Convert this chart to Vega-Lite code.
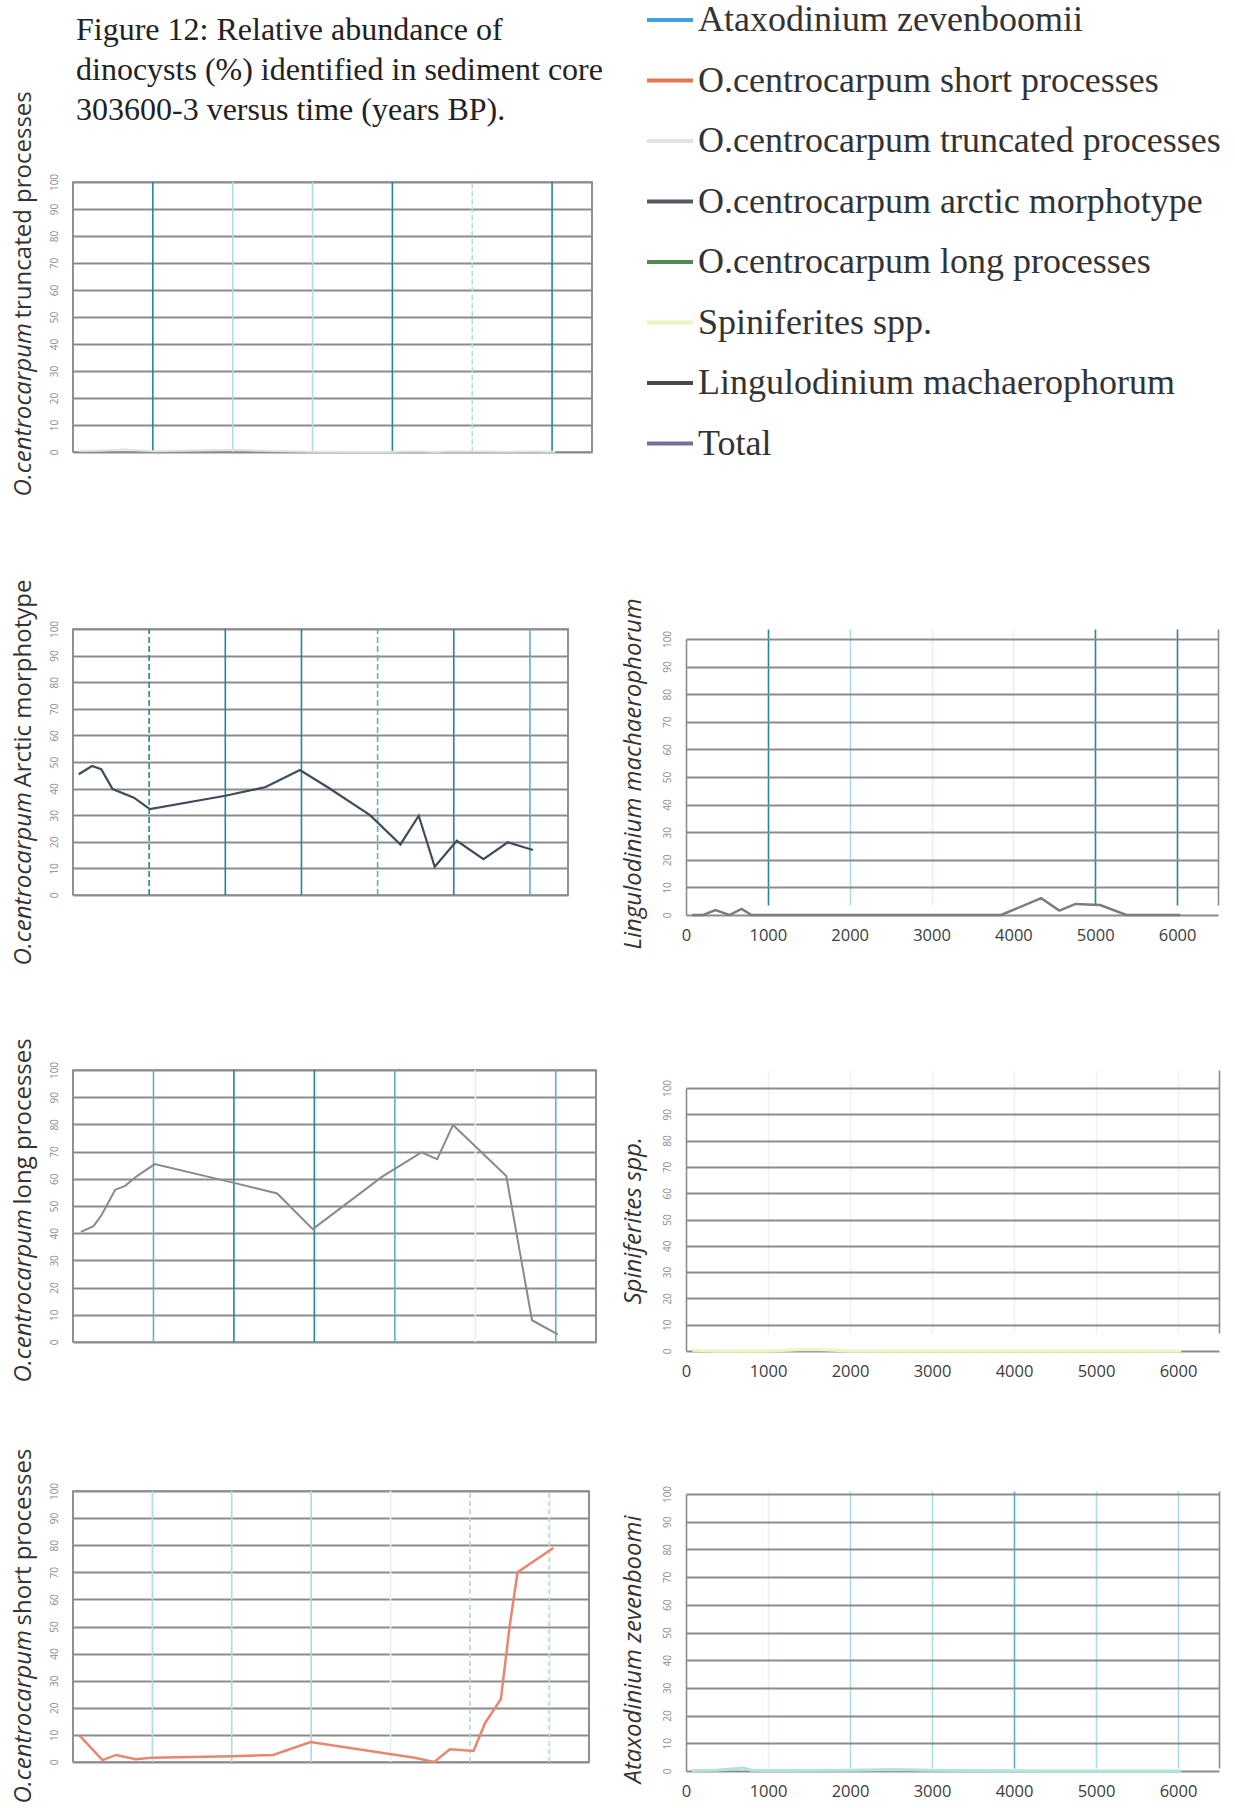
{
  "$schema": "https://vega.github.io/schema/vega-lite/v6.json",
  "padding": 0,
  "background": "white",
  "config": {
    "view": {"stroke": "#8c8c8c", "strokeWidth": 1.6},
    "font": "Open Sans"
  },
  "datasets": {
    "gridlines": [
      {"age": 0}, {"age": 1000}, {"age": 2000}, {"age": 3000}, {"age": 4000}, {"age": 5000}, {"age": 6000}, {"age": 6500}
    ],
    "dinocysts": [
      {"series": "O.centrocarpum truncated processes", "age": 75, "pct": 0.4},
      {"series": "O.centrocarpum truncated processes", "age": 370, "pct": 0.6},
      {"series": "O.centrocarpum truncated processes", "age": 660, "pct": 0.9},
      {"series": "O.centrocarpum truncated processes", "age": 1000, "pct": 0.3},
      {"series": "O.centrocarpum truncated processes", "age": 2000, "pct": 0.8},
      {"series": "O.centrocarpum truncated processes", "age": 2530, "pct": 0.4},
      {"series": "O.centrocarpum truncated processes", "age": 2990, "pct": 0.1},
      {"series": "O.centrocarpum truncated processes", "age": 3850, "pct": 0},
      {"series": "O.centrocarpum truncated processes", "age": 4320, "pct": 0.3},
      {"series": "O.centrocarpum truncated processes", "age": 4540, "pct": 0},
      {"series": "O.centrocarpum truncated processes", "age": 4750, "pct": 0.3},
      {"series": "O.centrocarpum truncated processes", "age": 5050, "pct": 0.2},
      {"series": "O.centrocarpum truncated processes", "age": 5390, "pct": 0.1},
      {"series": "O.centrocarpum truncated processes", "age": 5710, "pct": 0.2},
      {"series": "O.centrocarpum truncated processes", "age": 6040, "pct": 0.1},

      {"series": "O.centrocarpum arctic morphotype", "age": 75, "pct": 45.4},
      {"series": "O.centrocarpum arctic morphotype", "age": 250, "pct": 48.5},
      {"series": "O.centrocarpum arctic morphotype", "age": 370, "pct": 47.3},
      {"series": "O.centrocarpum arctic morphotype", "age": 520, "pct": 39.8},
      {"series": "O.centrocarpum arctic morphotype", "age": 800, "pct": 36.6},
      {"series": "O.centrocarpum arctic morphotype", "age": 1010, "pct": 32.3},
      {"series": "O.centrocarpum arctic morphotype", "age": 2000, "pct": 37.3},
      {"series": "O.centrocarpum arctic morphotype", "age": 2530, "pct": 40.6},
      {"series": "O.centrocarpum arctic morphotype", "age": 2980, "pct": 47},
      {"series": "O.centrocarpum arctic morphotype", "age": 3350, "pct": 40.4},
      {"series": "O.centrocarpum arctic morphotype", "age": 3900, "pct": 30},
      {"series": "O.centrocarpum arctic morphotype", "age": 4300, "pct": 19},
      {"series": "O.centrocarpum arctic morphotype", "age": 4540, "pct": 29.8},
      {"series": "O.centrocarpum arctic morphotype", "age": 4750, "pct": 10.6},
      {"series": "O.centrocarpum arctic morphotype", "age": 5040, "pct": 20.4},
      {"series": "O.centrocarpum arctic morphotype", "age": 5390, "pct": 13.5},
      {"series": "O.centrocarpum arctic morphotype", "age": 5710, "pct": 19.8},
      {"series": "O.centrocarpum arctic morphotype", "age": 6040, "pct": 16.9},

      {"series": "Lingulodinium machaerophorum", "age": 75, "pct": 0},
      {"series": "Lingulodinium machaerophorum", "age": 210, "pct": 0},
      {"series": "Lingulodinium machaerophorum", "age": 360, "pct": 1.8},
      {"series": "Lingulodinium machaerophorum", "age": 530, "pct": 0},
      {"series": "Lingulodinium machaerophorum", "age": 680, "pct": 2.2},
      {"series": "Lingulodinium machaerophorum", "age": 800, "pct": 0},
      {"series": "Lingulodinium machaerophorum", "age": 1000, "pct": 0},
      {"series": "Lingulodinium machaerophorum", "age": 2000, "pct": 0},
      {"series": "Lingulodinium machaerophorum", "age": 2530, "pct": 0},
      {"series": "Lingulodinium machaerophorum", "age": 2990, "pct": 0},
      {"series": "Lingulodinium machaerophorum", "age": 3850, "pct": 0},
      {"series": "Lingulodinium machaerophorum", "age": 4340, "pct": 6.1},
      {"series": "Lingulodinium machaerophorum", "age": 4560, "pct": 1.6},
      {"series": "Lingulodinium machaerophorum", "age": 4760, "pct": 4},
      {"series": "Lingulodinium machaerophorum", "age": 5060, "pct": 3.6},
      {"series": "Lingulodinium machaerophorum", "age": 5380, "pct": 0},
      {"series": "Lingulodinium machaerophorum", "age": 5710, "pct": 0},
      {"series": "Lingulodinium machaerophorum", "age": 6040, "pct": 0},

      {"series": "O.centrocarpum long processes", "age": 98, "pct": 40.5},
      {"series": "O.centrocarpum long processes", "age": 255, "pct": 42.6},
      {"series": "O.centrocarpum long processes", "age": 353, "pct": 46.6},
      {"series": "O.centrocarpum long processes", "age": 525, "pct": 56},
      {"series": "O.centrocarpum long processes", "age": 648, "pct": 57.4},
      {"series": "O.centrocarpum long processes", "age": 795, "pct": 61},
      {"series": "O.centrocarpum long processes", "age": 1016, "pct": 65.4},
      {"series": "O.centrocarpum long processes", "age": 2000, "pct": 58.5},
      {"series": "O.centrocarpum long processes", "age": 2538, "pct": 54.6},
      {"series": "O.centrocarpum long processes", "age": 2980, "pct": 41.5},
      {"series": "O.centrocarpum long processes", "age": 3839, "pct": 60.7},
      {"series": "O.centrocarpum long processes", "age": 4330, "pct": 69.7},
      {"series": "O.centrocarpum long processes", "age": 4526, "pct": 67.2},
      {"series": "O.centrocarpum long processes", "age": 4723, "pct": 79.8},
      {"series": "O.centrocarpum long processes", "age": 5385, "pct": 61},
      {"series": "O.centrocarpum long processes", "age": 5705, "pct": 8},
      {"series": "O.centrocarpum long processes", "age": 6024, "pct": 2.8},

      {"series": "Spiniferites spp.", "age": 75, "pct": 0.3},
      {"series": "Spiniferites spp.", "age": 370, "pct": 0},
      {"series": "Spiniferites spp.", "age": 1000, "pct": 0},
      {"series": "Spiniferites spp.", "age": 1400, "pct": 0.5},
      {"series": "Spiniferites spp.", "age": 1650, "pct": 0.5},
      {"series": "Spiniferites spp.", "age": 2000, "pct": 0},
      {"series": "Spiniferites spp.", "age": 2990, "pct": 0},
      {"series": "Spiniferites spp.", "age": 4320, "pct": 0},
      {"series": "Spiniferites spp.", "age": 5050, "pct": 0},
      {"series": "Spiniferites spp.", "age": 6040, "pct": 0},

      {"series": "O.centrocarpum short processes", "age": 74, "pct": 10},
      {"series": "O.centrocarpum short processes", "age": 371, "pct": 0.7},
      {"series": "O.centrocarpum short processes", "age": 544, "pct": 2.6},
      {"series": "O.centrocarpum short processes", "age": 791, "pct": 1},
      {"series": "O.centrocarpum short processes", "age": 989, "pct": 1.6},
      {"series": "O.centrocarpum short processes", "age": 2003, "pct": 2.1},
      {"series": "O.centrocarpum short processes", "age": 2522, "pct": 2.6},
      {"series": "O.centrocarpum short processes", "age": 2992, "pct": 7.4},
      {"series": "O.centrocarpum short processes", "age": 4303, "pct": 1.6},
      {"series": "O.centrocarpum short processes", "age": 4550, "pct": 0},
      {"series": "O.centrocarpum short processes", "age": 4748, "pct": 4.7},
      {"series": "O.centrocarpum short processes", "age": 5045, "pct": 4.1},
      {"series": "O.centrocarpum short processes", "age": 5193, "pct": 14.5},
      {"series": "O.centrocarpum short processes", "age": 5390, "pct": 23.2},
      {"series": "O.centrocarpum short processes", "age": 5500, "pct": 50},
      {"series": "O.centrocarpum short processes", "age": 5600, "pct": 70},
      {"series": "O.centrocarpum short processes", "age": 6050, "pct": 79},

      {"series": "Ataxodinium zevenboomii", "age": 75, "pct": 0.2},
      {"series": "Ataxodinium zevenboomii", "age": 370, "pct": 0.3},
      {"series": "Ataxodinium zevenboomii", "age": 620, "pct": 0.9},
      {"series": "Ataxodinium zevenboomii", "age": 700, "pct": 1.1},
      {"series": "Ataxodinium zevenboomii", "age": 800, "pct": 0.3},
      {"series": "Ataxodinium zevenboomii", "age": 1000, "pct": 0.2},
      {"series": "Ataxodinium zevenboomii", "age": 2000, "pct": 0.3},
      {"series": "Ataxodinium zevenboomii", "age": 2530, "pct": 0.5},
      {"series": "Ataxodinium zevenboomii", "age": 2990, "pct": 0.3},
      {"series": "Ataxodinium zevenboomii", "age": 3850, "pct": 0.1},
      {"series": "Ataxodinium zevenboomii", "age": 4320, "pct": 0},
      {"series": "Ataxodinium zevenboomii", "age": 5050, "pct": 0},
      {"series": "Ataxodinium zevenboomii", "age": 5710, "pct": 0},
      {"series": "Ataxodinium zevenboomii", "age": 6040, "pct": 0}
    ]
  },
  "columns": 3,
  "spacing": 0,
  "bounds": "flush",
  "align": "each",
  "concat": [
    {"width": 72, "height": 10, "data": {"values": [{}]}, "mark": {"type": "rule", "opacity": 0}, "encoding": {}, "view": {"stroke": null, "fill": "white"}},
    {
      "width": 613, "height": 181,
      "data": {"values": [{}]}, "mark": {"type": "rule", "opacity": 0}, "encoding": {},
      "view": {"stroke": null},
      "title": {
        "text": ["Figure 12: Relative abundance of", "dinocysts (%) identified in sediment core", "303600-3 versus time (years BP)."],
        "anchor": "start", "frame": "group", "orient": "top", "baseline": "top",
        "offset": -126, "dx": 3, "lineHeight": 40,
        "font": "Liberation Serif", "fontSize": 32, "fontWeight": "normal", "color": "#222222"
      }
    },
    {"width": 1, "height": 1, "data": {"values": [{}]}, "mark": {"type": "rule", "opacity": 0}, "encoding": {}, "view": {"stroke": null}},

    {"width": 1, "height": 1, "data": {"values": [{}]}, "mark": {"type": "rule", "opacity": 0}, "encoding": {}, "view": {"stroke": null}},
    {
      "width": 519, "height": 270,
      "data": {"name": "dinocysts"},
      "transform": [{"filter": {"field": "series", "equal": "O.centrocarpum truncated processes"}}],
      "layer": [
        {
          "data": {"name": "gridlines"},
          "mark": {"type": "rule", "strokeWidth": 1.6},
          "encoding": {
            "x": {"field": "age", "type": "quantitative", "axis": null},
            "y": {"datum": 0, "type": "quantitative", "axis": null},
            "y2": {"datum": 100},
            "color": {"condition": [{"test": "datum.age === 0 || datum.age === 6500", "value": "#8c8c8c"}, {"test": "indexof([1000,4000,6000], datum.age) >= 0", "value": "#23879a"}], "value": "#a9dce3"},
            "strokeDash": {"condition": {"test": "datum.age === 5000", "value": [5, 3]}, "value": [1, 0]}
          }
        },
        {
          "mark": {"type": "line", "strokeWidth": 2},
          "encoding": {
            "x": {"field": "age", "type": "quantitative", "scale": {"domain": [0, 6500], "nice": false},
              "axis": {"values": [0, 1000, 2000, 3000, 4000, 5000, 6000], "format": "d", "title": null, "domain": false, "ticks": false, "tickSize": 0, "labelPadding": 12, "labelFont": "Open Sans", "labelFontSize": 16.5, "labelColor": "#3c3c3c", "labelFlush": false, "labelOverlap": false, "grid": false}},
            "y": {"field": "pct", "type": "quantitative", "scale": {"domain": [0, 100], "nice": false},
              "axis": {"orient": "left", "values": [0, 10, 20, 30, 40, 50, 60, 70, 80, 90, 100], "domain": false, "ticks": false, "tickSize": 0, "labelAngle": 270, "labelAlign": "center", "labelBaseline": "middle", "labelPadding": 19, "labelFont": "Open Sans", "labelFontSize": 10, "labelColor": "#8c8c8c", "labelFlush": false, "labelOverlap": false, "grid": true, "gridColor": "#8c8c8c", "gridWidth": 1.8,
                "title": "O.centrocarpum", "titleFont": "Open Sans", "titleFontSize": 24, "titleFontStyle": "italic", "titleFontWeight": "normal", "titleColor": "#333333", "titleAngle": 270, "titleAlign": "left", "titleBaseline": "middle", "titleX": -50, "titleY": 314}},
            "color": {"field": "series", "type": "nominal",
              "scale": {
                "domain": ["Ataxodinium zevenboomii", "O.centrocarpum short processes", "O.centrocarpum truncated processes", "O.centrocarpum arctic morphotype", "O.centrocarpum long processes", "Spiniferites spp.", "Lingulodinium machaerophorum", "Total"],
                "range": ["#3fa0e0", "#e07850", "#e2e2e2", "#555a60", "#4e8a52", "#eef5bc", "#484848", "#7a6e98"]
              },
              "legend": {"orient": "none", "legendX": 644, "legendY": 1, "title": null, "padding": 0, "symbolType": "stroke", "symbolSize": 2116, "symbolStrokeWidth": 4, "clipHeight": 36, "rowPadding": 24.5, "labelOffset": 3, "labelFont": "Liberation Serif", "labelFontSize": 36, "labelColor": "#333333", "labelLimit": 0, "labelBaseline": "middle"}}
          }
        },
        {
          "mark": {"type": "line", "opacity": 0},
          "encoding": {
            "x": {"field": "age", "type": "quantitative", "axis": null},
            "y": {"field": "pct", "type": "quantitative",
              "axis": {"orient": "left", "labels": false, "ticks": false, "domain": false, "grid": false, "title": "truncated processes", "titleFont": "Open Sans", "titleFontSize": 24, "titleFontStyle": "normal", "titleFontWeight": "normal", "titleColor": "#333333", "titleAngle": 270, "titleAlign": "left", "titleBaseline": "middle", "titleX": -50, "titleY": 136}}
          }
        }
      ],
      "resolve": {"axis": {"y": "independent"}}
    },
    {"width": 1, "height": 1, "data": {"values": [{}]}, "mark": {"type": "rule", "opacity": 0}, "encoding": {}, "view": {"stroke": null}},

    {"width": 1, "height": 1, "data": {"values": [{}]}, "mark": {"type": "rule", "opacity": 0}, "encoding": {}, "view": {"stroke": null}},
    {"width": 10, "height": 177, "data": {"values": [{}]}, "mark": {"type": "rule", "opacity": 0}, "encoding": {}, "view": {"stroke": null}},
    {"width": 1, "height": 1, "data": {"values": [{}]}, "mark": {"type": "rule", "opacity": 0}, "encoding": {}, "view": {"stroke": null}},

    {"width": 1, "height": 1, "data": {"values": [{}]}, "mark": {"type": "rule", "opacity": 0}, "encoding": {}, "view": {"stroke": null}},
    {
      "width": 495, "height": 266,
      "data": {"name": "dinocysts"},
      "transform": [{"filter": {"field": "series", "equal": "O.centrocarpum arctic morphotype"}}],
      "layer": [
        {
          "data": {"name": "gridlines"},
          "mark": {"type": "rule", "strokeWidth": 1.6},
          "encoding": {
            "x": {"field": "age", "type": "quantitative", "axis": null},
            "y": {"datum": 0, "type": "quantitative", "axis": null},
            "y2": {"datum": 100},
            "color": {"condition": [{"test": "datum.age === 0 || datum.age === 6500", "value": "#8c8c8c"}, {"test": "indexof([1000,2000,3000,5000], datum.age) >= 0", "value": "#23879a"}], "value": "#5cb3c2"},
            "strokeDash": {"condition": {"test": "indexof([1000,4000], datum.age) >= 0", "value": [6, 3]}, "value": [1, 0]}
          }
        },
        {
          "mark": {"type": "line", "color": "#3d4c5c", "strokeWidth": 2.2},
          "encoding": {
            "x": {"field": "age", "type": "quantitative", "scale": {"domain": [0, 6500], "nice": false},
              "axis": {"values": [0, 1000, 2000, 3000, 4000, 5000, 6000], "format": "d", "title": null, "domain": false, "ticks": false, "tickSize": 0, "labelPadding": 12, "labelFont": "Open Sans", "labelFontSize": 16.5, "labelColor": "#3c3c3c", "labelFlush": false, "labelOverlap": false, "grid": false}},
            "y": {"field": "pct", "type": "quantitative", "scale": {"domain": [0, 100], "nice": false},
              "axis": {"orient": "left", "values": [0, 10, 20, 30, 40, 50, 60, 70, 80, 90, 100], "domain": false, "ticks": false, "tickSize": 0, "labelAngle": 270, "labelAlign": "center", "labelBaseline": "middle", "labelPadding": 19, "labelFont": "Open Sans", "labelFontSize": 10, "labelColor": "#8c8c8c", "labelFlush": false, "labelOverlap": false, "grid": true, "gridColor": "#8c8c8c", "gridWidth": 1.8,
                "title": "O.centrocarpum", "titleFont": "Open Sans", "titleFontSize": 24, "titleFontStyle": "italic", "titleFontWeight": "normal", "titleColor": "#333333", "titleAngle": 270, "titleAlign": "left", "titleBaseline": "middle", "titleX": -50, "titleY": 336}}
          }
        },
        {
          "mark": {"type": "line", "opacity": 0},
          "encoding": {
            "x": {"field": "age", "type": "quantitative", "axis": null},
            "y": {"field": "pct", "type": "quantitative",
              "axis": {"orient": "left", "labels": false, "ticks": false, "domain": false, "grid": false, "title": "Arctic morphotype", "titleFont": "Open Sans", "titleFontSize": 24, "titleFontStyle": "normal", "titleFontWeight": "normal", "titleColor": "#333333", "titleAngle": 270, "titleAlign": "left", "titleBaseline": "middle", "titleX": -50, "titleY": 158}}
          }
        }
      ],
      "resolve": {"axis": {"y": "independent"}}
    },
    {
      "width": 532, "height": 286,
      "data": {"name": "dinocysts"},
      "transform": [{"filter": {"field": "series", "equal": "Lingulodinium machaerophorum"}}],
      "view": {"stroke": null},
      "mark": {"type": "line", "color": "#7c7c7c", "strokeWidth": 2.5},
      "encoding": {
        "x": {"field": "age", "type": "quantitative", "scale": {"domain": [0, 6500], "nice": false},
          "axis": {"values": [0, 1000, 2000, 3000, 4000, 5000, 6000, 6500], "format": "d", "labelExpr": "datum.value > 6000 ? '' : datum.label", "title": null, "domain": false, "ticks": false, "tickSize": 0, "labelPadding": 12, "labelFont": "Open Sans", "labelFontSize": 16.5, "labelColor": "#3c3c3c", "labelFlush": false, "labelOverlap": false, "grid": true, "gridWidth": 1.6,
            "gridColor": {"condition": [{"test": "datum.value === 0", "value": "transparent"}, {"test": "datum.value === 6500", "value": "#8c8c8c"}, {"test": "indexof([1000,5000,6000], datum.value) >= 0", "value": "#23879a"}, {"test": "datum.value === 2000", "value": "#a9dce3"}], "value": "#e4f1f2"}}},
        "y": {"field": "pct", "type": "quantitative", "scale": {"domain": [0, 100], "nice": false, "range": [286, 10]},
          "axis": {"orient": "left", "values": [0, 10, 20, 30, 40, 50, 60, 70, 80, 90, 100], "domain": true, "domainColor": "#8c8c8c", "domainWidth": 1.6, "ticks": false, "tickSize": 0, "labelAngle": 270, "labelAlign": "center", "labelBaseline": "middle", "labelPadding": 19, "labelFont": "Open Sans", "labelFontSize": 10, "labelColor": "#8c8c8c", "labelFlush": false, "labelOverlap": false, "grid": true, "gridColor": "#8c8c8c", "gridWidth": 1.8,
            "title": "Lingulodinium machaerophorum", "titleFont": "Open Sans", "titleFontSize": 24, "titleFontStyle": "italic", "titleFontWeight": "normal", "titleColor": "#333333", "titleAngle": 270, "titleAlign": "left", "titleBaseline": "middle", "titleX": -53, "titleY": 320}}
      }
    },

    {"width": 1, "height": 1, "data": {"values": [{}]}, "mark": {"type": "rule", "opacity": 0}, "encoding": {}, "view": {"stroke": null}},
    {"width": 10, "height": 155, "data": {"values": [{}]}, "mark": {"type": "rule", "opacity": 0}, "encoding": {}, "view": {"stroke": null}},
    {"width": 1, "height": 1, "data": {"values": [{}]}, "mark": {"type": "rule", "opacity": 0}, "encoding": {}, "view": {"stroke": null}},

    {"width": 1, "height": 1, "data": {"values": [{}]}, "mark": {"type": "rule", "opacity": 0}, "encoding": {}, "view": {"stroke": null}},
    {
      "width": 523, "height": 272,
      "data": {"name": "dinocysts"},
      "transform": [{"filter": {"field": "series", "equal": "O.centrocarpum long processes"}}],
      "layer": [
        {
          "data": {"name": "gridlines"},
          "mark": {"type": "rule", "strokeWidth": 1.6},
          "encoding": {
            "x": {"field": "age", "type": "quantitative", "axis": null},
            "y": {"datum": 0, "type": "quantitative", "axis": null},
            "y2": {"datum": 100},
            "color": {"condition": [{"test": "datum.age === 0 || datum.age === 6500", "value": "#8c8c8c"}, {"test": "indexof([2000,3000], datum.age) >= 0", "value": "#23879a"}, {"test": "datum.age === 5000", "value": "#e4f1f2"}], "value": "#5cb3c2"}
          }
        },
        {
          "mark": {"type": "line", "color": "#8a8a8a", "strokeWidth": 2},
          "encoding": {
            "x": {"field": "age", "type": "quantitative", "scale": {"domain": [0, 6500], "nice": false},
              "axis": {"values": [0, 1000, 2000, 3000, 4000, 5000, 6000], "format": "d", "title": null, "domain": false, "ticks": false, "tickSize": 0, "labelPadding": 12, "labelFont": "Open Sans", "labelFontSize": 16.5, "labelColor": "#3c3c3c", "labelFlush": false, "labelOverlap": false, "grid": false}},
            "y": {"field": "pct", "type": "quantitative", "scale": {"domain": [0, 100], "nice": false},
              "axis": {"orient": "left", "values": [0, 10, 20, 30, 40, 50, 60, 70, 80, 90, 100], "domain": false, "ticks": false, "tickSize": 0, "labelAngle": 270, "labelAlign": "center", "labelBaseline": "middle", "labelPadding": 19, "labelFont": "Open Sans", "labelFontSize": 10, "labelColor": "#8c8c8c", "labelFlush": false, "labelOverlap": false, "grid": true, "gridColor": "#8c8c8c", "gridWidth": 1.8,
                "title": "O.centrocarpum", "titleFont": "Open Sans", "titleFontSize": 24, "titleFontStyle": "italic", "titleFontWeight": "normal", "titleColor": "#333333", "titleAngle": 270, "titleAlign": "left", "titleBaseline": "middle", "titleX": -50, "titleY": 312}}
          }
        },
        {
          "mark": {"type": "line", "opacity": 0},
          "encoding": {
            "x": {"field": "age", "type": "quantitative", "axis": null},
            "y": {"field": "pct", "type": "quantitative",
              "axis": {"orient": "left", "labels": false, "ticks": false, "domain": false, "grid": false, "title": "long processes", "titleFont": "Open Sans", "titleFontSize": 24, "titleFontStyle": "normal", "titleFontWeight": "normal", "titleColor": "#333333", "titleAngle": 270, "titleAlign": "left", "titleBaseline": "middle", "titleX": -50, "titleY": 134}}
          }
        }
      ],
      "resolve": {"axis": {"y": "independent"}}
    },
    {
      "width": 533, "height": 281,
      "data": {"name": "dinocysts"},
      "transform": [{"filter": {"field": "series", "equal": "Spiniferites spp."}}],
      "view": {"stroke": null},
      "mark": {"type": "line", "color": "#eef4c0", "strokeWidth": 3},
      "encoding": {
        "x": {"field": "age", "type": "quantitative", "scale": {"domain": [0, 6500], "nice": false},
          "axis": {"values": [0, 1000, 2000, 3000, 4000, 5000, 6000, 6500], "format": "d", "labelExpr": "datum.value > 6000 ? '' : datum.label", "title": null, "domain": false, "ticks": false, "tickSize": 0, "labelPadding": 12, "labelFont": "Open Sans", "labelFontSize": 16.5, "labelColor": "#3c3c3c", "labelFlush": false, "labelOverlap": false, "grid": true, "gridWidth": 1.6,
            "gridColor": {"condition": [{"test": "datum.value === 0", "value": "transparent"}, {"test": "datum.value === 6500", "value": "#8c8c8c"}], "value": "#edf3f3"}}},
        "y": {"field": "pct", "type": "quantitative", "scale": {"domain": [0, 100], "nice": false, "range": [281, 18]},
          "axis": {"orient": "left", "values": [0, 10, 20, 30, 40, 50, 60, 70, 80, 90, 100], "domain": true, "domainColor": "#8c8c8c", "domainWidth": 1.6, "ticks": false, "tickSize": 0, "labelAngle": 270, "labelAlign": "center", "labelBaseline": "middle", "labelPadding": 19, "labelFont": "Open Sans", "labelFontSize": 10, "labelColor": "#8c8c8c", "labelFlush": false, "labelOverlap": false, "grid": true, "gridColor": "#8c8c8c", "gridWidth": 1.8,
            "title": "Spiniferites spp.", "titleFont": "Open Sans", "titleFontSize": 24, "titleFontStyle": "italic", "titleFontWeight": "normal", "titleColor": "#333333", "titleAngle": 270, "titleAlign": "left", "titleBaseline": "middle", "titleX": -53, "titleY": 234}}
      }
    },

    {"width": 1, "height": 1, "data": {"values": [{}]}, "mark": {"type": "rule", "opacity": 0}, "encoding": {}, "view": {"stroke": null}},
    {"width": 10, "height": 140, "data": {"values": [{}]}, "mark": {"type": "rule", "opacity": 0}, "encoding": {}, "view": {"stroke": null}},
    {"width": 1, "height": 1, "data": {"values": [{}]}, "mark": {"type": "rule", "opacity": 0}, "encoding": {}, "view": {"stroke": null}},

    {"width": 1, "height": 1, "data": {"values": [{}]}, "mark": {"type": "rule", "opacity": 0}, "encoding": {}, "view": {"stroke": null}},
    {
      "width": 516, "height": 271,
      "data": {"name": "dinocysts"},
      "transform": [{"filter": {"field": "series", "equal": "O.centrocarpum short processes"}}],
      "layer": [
        {
          "data": {"name": "gridlines"},
          "mark": {"type": "rule", "strokeWidth": 1.6},
          "encoding": {
            "x": {"field": "age", "type": "quantitative", "axis": null},
            "y": {"datum": 0, "type": "quantitative", "axis": null},
            "y2": {"datum": 100},
            "color": {"condition": [{"test": "datum.age === 0 || datum.age === 6500", "value": "#8c8c8c"}, {"test": "datum.age === 4000", "value": "#e4f1f2"}], "value": "#a9dce3"},
            "strokeDash": {"condition": {"test": "indexof([5000,6000], datum.age) >= 0", "value": [5, 3]}, "value": [1, 0]}
          }
        },
        {
          "mark": {"type": "line", "color": "#e8866e", "strokeWidth": 2.5},
          "encoding": {
            "x": {"field": "age", "type": "quantitative", "scale": {"domain": [0, 6500], "nice": false},
              "axis": {"values": [0, 1000, 2000, 3000, 4000, 5000, 6000], "format": "d", "title": null, "domain": false, "ticks": false, "tickSize": 0, "labelPadding": 12, "labelFont": "Open Sans", "labelFontSize": 16.5, "labelColor": "#3c3c3c", "labelFlush": false, "labelOverlap": false, "grid": false}},
            "y": {"field": "pct", "type": "quantitative", "scale": {"domain": [0, 100], "nice": false},
              "axis": {"orient": "left", "values": [0, 10, 20, 30, 40, 50, 60, 70, 80, 90, 100], "domain": false, "ticks": false, "tickSize": 0, "labelAngle": 270, "labelAlign": "center", "labelBaseline": "middle", "labelPadding": 19, "labelFont": "Open Sans", "labelFontSize": 10, "labelColor": "#8c8c8c", "labelFlush": false, "labelOverlap": false, "grid": true, "gridColor": "#8c8c8c", "gridWidth": 1.8,
                "title": "O.centrocarpum", "titleFont": "Open Sans", "titleFontSize": 24, "titleFontStyle": "italic", "titleFontWeight": "normal", "titleColor": "#333333", "titleAngle": 270, "titleAlign": "left", "titleBaseline": "middle", "titleX": -50, "titleY": 312}}
          }
        },
        {
          "mark": {"type": "line", "opacity": 0},
          "encoding": {
            "x": {"field": "age", "type": "quantitative", "axis": null},
            "y": {"field": "pct", "type": "quantitative",
              "axis": {"orient": "left", "labels": false, "ticks": false, "domain": false, "grid": false, "title": "short processes", "titleFont": "Open Sans", "titleFontSize": 24, "titleFontStyle": "normal", "titleFontWeight": "normal", "titleColor": "#333333", "titleAngle": 270, "titleAlign": "left", "titleBaseline": "middle", "titleX": -50, "titleY": 134}}
          }
        }
      ],
      "resolve": {"axis": {"y": "independent"}}
    },
    {
      "width": 533, "height": 280,
      "data": {"name": "dinocysts"},
      "transform": [{"filter": {"field": "series", "equal": "Ataxodinium zevenboomii"}}],
      "view": {"stroke": null},
      "mark": {"type": "line", "color": "#b4e2de", "strokeWidth": 3},
      "encoding": {
        "x": {"field": "age", "type": "quantitative", "scale": {"domain": [0, 6500], "nice": false},
          "axis": {"values": [0, 1000, 2000, 3000, 4000, 5000, 6000, 6500], "format": "d", "labelExpr": "datum.value > 6000 ? '' : datum.label", "title": null, "domain": false, "ticks": false, "tickSize": 0, "labelPadding": 12, "labelFont": "Open Sans", "labelFontSize": 16.5, "labelColor": "#3c3c3c", "labelFlush": false, "labelOverlap": false, "grid": true, "gridWidth": 1.6,
            "gridColor": {"condition": [{"test": "datum.value === 0", "value": "transparent"}, {"test": "datum.value === 6500", "value": "#8c8c8c"}, {"test": "datum.value === 4000", "value": "#5cb3c2"}, {"test": "datum.value === 1000", "value": "#e4f1f2"}], "value": "#a9dce3"}}},
        "y": {"field": "pct", "type": "quantitative", "scale": {"domain": [0, 100], "nice": false, "range": [280, 3]},
          "axis": {"orient": "left", "values": [0, 10, 20, 30, 40, 50, 60, 70, 80, 90, 100], "domain": true, "domainColor": "#8c8c8c", "domainWidth": 1.6, "ticks": false, "tickSize": 0, "labelAngle": 270, "labelAlign": "center", "labelBaseline": "middle", "labelPadding": 19, "labelFont": "Open Sans", "labelFontSize": 10, "labelColor": "#8c8c8c", "labelFlush": false, "labelOverlap": false, "grid": true, "gridColor": "#8c8c8c", "gridWidth": 1.8,
            "title": "Ataxodinium zevenboomi", "titleFont": "Open Sans", "titleFontSize": 24, "titleFontStyle": "italic", "titleFontWeight": "normal", "titleColor": "#333333", "titleAngle": 270, "titleAlign": "left", "titleBaseline": "middle", "titleX": -53, "titleY": 292}}
      }
    }
  ]
}
